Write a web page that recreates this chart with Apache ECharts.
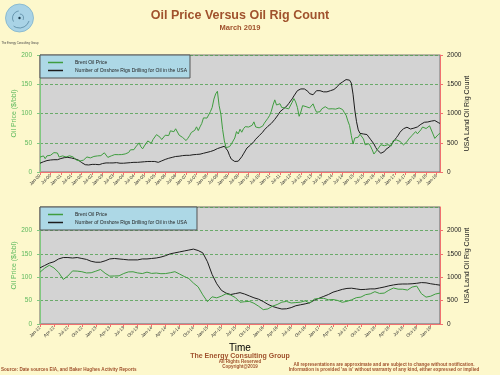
<!DOCTYPE html>
<html>
<head>
<meta charset="utf-8">
<script src="https://cdn.jsdelivr.net/npm/echarts@6/dist/echarts.min.js"></script>
<style>
  html, body { margin: 0; padding: 0; background: #fdf8cc; }
  #chart { width: 500px; height: 375px; }
</style>
</head>
<body>
<div id="chart"></div>
<script>
// monthly, Jan-2000 .. Mar-2019
var brentPrice = [
  25.5, 27.8, 27.5, 22.8, 27.6, 29.8, 28.5, 30.0, 33.1, 30.9, 32.5, 25.6,
  25.6, 27.5, 24.5, 25.7, 28.4, 27.7, 24.5, 25.8, 25.6, 20.5, 18.8, 18.7,
  19.4, 20.3, 23.7, 25.7, 25.4, 24.1, 25.7, 26.6, 28.4, 27.5, 24.3, 28.0,
  31.2, 32.8, 30.3, 25.0, 25.8, 27.6, 28.4, 29.8, 27.1, 29.6, 28.8, 29.8,
  31.2, 30.9, 33.8, 33.4, 37.9, 35.2, 38.2, 42.7, 43.2, 49.8, 43.1, 39.6,
  44.5, 45.5, 53.1, 51.9, 49.0, 55.6, 57.9, 63.9, 63.8, 59.5, 55.5, 56.7,
  62.9, 60.0, 62.3, 70.4, 70.8, 68.9, 73.9, 73.6, 63.0, 59.9, 59.1, 62.4,
  53.7, 57.6, 62.1, 67.5, 67.9, 71.3, 77.2, 70.8, 77.1, 82.9, 92.5, 91.5,
  92.2, 94.9, 103.3, 110.4, 124.6, 133.5, 138.0, 113.4, 99.0, 72.8, 53.2, 41.6,
  44.9, 43.4, 47.7, 50.5, 58.1, 69.1, 65.0, 73.1, 68.0, 73.9, 77.5, 75.2,
  76.9, 74.7, 79.9, 85.7, 77.0, 75.7, 75.5, 77.1, 78.4, 83.5, 86.2, 91.8,
  96.5, 103.7, 114.6, 123.3, 114.5, 113.9, 116.7, 110.2, 112.8, 109.6, 110.8, 107.9,
  110.7, 119.3, 125.5, 119.8, 110.3, 95.2, 102.6, 113.4, 113.0, 111.7, 109.1, 109.5,
  112.9, 116.5, 108.5, 102.3, 102.6, 102.9, 107.9, 111.3, 111.6, 109.1, 107.8, 110.8,
  108.1, 108.9, 107.5, 107.8, 109.5, 111.8, 106.8, 101.6, 97.1, 87.4, 79.4, 62.3,
  47.8, 58.1, 55.9, 59.5, 64.6, 61.7, 56.5, 46.5, 47.6, 48.4, 44.3, 38.0,
  30.7, 32.2, 38.2, 41.6, 46.7, 48.3, 44.9, 45.8, 46.6, 49.5, 44.7, 53.3,
  54.6, 54.9, 51.6, 52.3, 50.3, 46.4, 48.5, 51.7, 56.2, 57.5, 62.7, 64.4,
  69.1, 65.3, 66.0, 72.1, 76.9, 74.4, 74.3, 72.5, 78.9, 81.0, 64.8, 57.4,
  59.4, 64.0, 66.1
];
var rigCount = [
  150, 160, 175, 185, 195, 200, 205, 210, 210, 205, 210, 215,
  230, 240, 245, 250, 250, 245, 240, 235, 225, 215, 205, 185,
  160, 140, 125, 120, 120, 125, 130, 130, 130, 125, 125, 135,
  145, 150, 155, 160, 155, 155, 155, 160, 160, 155, 150, 150,
  150, 150, 155, 160, 160, 160, 165, 165, 165, 165, 170, 170,
  175, 175, 180, 180, 180, 185, 180, 170, 165, 175, 190, 205,
  215, 225, 235, 245, 250, 260, 265, 270, 270, 275, 280, 285,
  285, 285, 285, 290, 295, 300, 300, 300, 305, 310, 320, 330,
  335, 340, 350, 360, 370, 385, 400, 410, 420, 430, 440, 420,
  360, 280, 220, 190, 180, 175, 185, 210, 260, 310, 360, 410,
  440, 460, 490, 520, 560, 590, 620, 650, 680, 720, 750, 780,
  810, 830, 860, 900, 940, 980, 1030, 1060, 1080, 1100, 1130, 1170,
  1200, 1250, 1300, 1330, 1390, 1420, 1420, 1410, 1420, 1400, 1380, 1340,
  1320, 1320, 1350, 1390, 1400, 1390, 1380, 1370, 1370, 1370, 1390, 1390,
  1400, 1410, 1430, 1460, 1500, 1520, 1540, 1560, 1580, 1600, 1570, 1520,
  1330, 1060, 860, 720, 660, 630, 650, 670, 640, 600, 560, 530,
  480, 420, 375, 345, 320, 325, 350, 390, 410, 430, 455, 510,
  550, 590, 630, 680, 710, 740, 760, 765, 750, 735, 740, 750,
  750, 770, 790, 815, 835, 850, 855, 855, 860, 870, 885, 880,
  860, 845, 830
];
var monthNames = ['Jan', 'Feb', 'Mar', 'Apr', 'May', 'Jun', 'Jul', 'Aug', 'Sep', 'Oct', 'Nov', 'Dec'];
var seriesNames = ['Brent Oil Price', 'Number of Onshore Rigs Drilling for Oil in the USA'];
var zoomStart = 144; // Jan-12, start of the lower chart

var months = [];
for (var i = 0; i < brentPrice.length; i++) {
  var yy = i / 12 | 0;
  months.push(monthNames[i % 12] + '-' + (yy < 10 ? '0' : '') + yy);
}

var brown = '#a0522d';
var green = '#3f9d3f';
var red = '#f07070';
var font = 'Liberation Sans, Arial, sans-serif';

function xAxisCfg(grid, cats, step) {
  return {
    gridIndex: grid,
    type: 'category',
    data: cats,
    boundaryGap: false,
    axisLine: { lineStyle: { color: red, width: 1 } },
    axisTick: { interval: step - 1, length: 3, lineStyle: { color: red } },
    axisLabel: { interval: step - 1, rotate: 45, fontSize: 4.5, color: '#333', margin: 3 },
    splitLine: { show: false }
  };
}

function leftAxis(grid, max) {
  return {
    gridIndex: grid, type: 'value', position: 'left', min: 0, max: max, interval: 50,
    name: 'Oil Price ($/bbl)', nameLocation: 'middle', nameGap: 22, nameRotate: 90,
    nameMoveOverlap: false,
    nameTextStyle: { color: '#5cb85c', fontSize: 7 },
    axisLine: { show: true, lineStyle: { color: '#80c880' } },
    axisTick: { show: true, length: 3, lineStyle: { color: '#80c880' } },
    axisLabel: { fontSize: 6.5, color: '#5cb85c', margin: 8, showMaxLabel: max === 200 },
    splitLine: { show: true, lineStyle: { color: '#4f9f4f', type: [3, 2], width: 0.8 } }
  };
}

function rightAxis(grid, max) {
  return {
    gridIndex: grid, type: 'value', position: 'right', min: 0, max: max, interval: 500,
    name: 'USA Land Oil Rig Count', nameLocation: 'middle', nameGap: 24, nameRotate: 90,
    nameMoveOverlap: false,
    nameTextStyle: { color: '#222', fontSize: 7 },
    axisLine: { show: true, lineStyle: { color: red } },
    axisTick: { show: true, length: 3, lineStyle: { color: red } },
    axisLabel: { fontSize: 6.5, color: '#222', margin: 7, showMaxLabel: max === 2000,
      formatter: function (v) { return String(v); } },
    splitLine: { show: false }
  };
}

function legendCfg(top, padRight) {
  return {
    data: seriesNames,
    orient: 'vertical',
    left: 40, top: top,
    backgroundColor: '#add8e6',
    borderColor: '#555', borderWidth: 1, borderRadius: 0,
    padding: [5, padRight, 5, 8],
    itemGap: 3, itemWidth: 15, itemHeight: 1.5, icon: 'rect',
    textStyle: { fontSize: 5, color: '#222', padding: [0, 0, 0, 7] }
  };
}

function txt(x, y, s, size, color, bold, align) {
  return {
    type: 'text', x: x, y: y, silent: true,
    style: {
      text: s, fill: color,
      font: (bold ? 'bold ' : '') + size + 'px ' + font,
      textAlign: align || 'center', textVerticalAlign: 'middle',
      align: align || 'center', verticalAlign: 'middle'
    }
  };
}

var myChart = echarts.init(document.getElementById('chart'));
var option = {
  backgroundColor: '#fdf8cc',
  animation: false,
  textStyle: { fontFamily: font },
  grid: [
    { left: 40, right: 60, top: 55, height: 117, outerBoundsMode: 'none', containLabel: false,
      show: true, backgroundColor: '#d3d3d3', borderColor: '#777', borderWidth: 1 },
    { left: 40, right: 60, top: 207, height: 117, outerBoundsMode: 'none', containLabel: false,
      show: true, backgroundColor: '#d3d3d3', borderColor: '#666', borderWidth: 1 }
  ],
  legend: [legendCfg(55, 3), legendCfg(207, 10)],
  xAxis: [
    xAxisCfg(0, months, 6),
    Object.assign(xAxisCfg(1, months.slice(zoomStart), 3), {
      name: 'Time', nameLocation: 'middle', nameGap: 19, nameMoveOverlap: false,
      nameTextStyle: { fontSize: 10, color: '#000' }
    })
  ],
  yAxis: [leftAxis(0, 200), rightAxis(0, 2000), leftAxis(1, 250), rightAxis(1, 2500)],
  series: [
    { name: seriesNames[1], type: 'line', xAxisIndex: 0, yAxisIndex: 1, data: rigCount, symbol: 'none',
      lineStyle: { color: '#1c1c1c', width: 1 }, itemStyle: { color: '#1c1c1c' } },
    { name: seriesNames[0], type: 'line', xAxisIndex: 0, yAxisIndex: 0, data: brentPrice, symbol: 'none',
      lineStyle: { color: green, width: 1 }, itemStyle: { color: green } },
    { name: seriesNames[1], type: 'line', xAxisIndex: 1, yAxisIndex: 3, data: rigCount.slice(zoomStart), symbol: 'none',
      lineStyle: { color: '#1c1c1c', width: 1 }, itemStyle: { color: '#1c1c1c' } },
    { name: seriesNames[0], type: 'line', xAxisIndex: 1, yAxisIndex: 2, data: brentPrice.slice(zoomStart), symbol: 'none',
      lineStyle: { color: green, width: 1 }, itemStyle: { color: green } }
  ],
  graphic: [
    // logo
    { type: 'circle', silent: true, shape: { cx: 19.5, cy: 18, r: 14 },
      style: { fill: '#a9d3e6', stroke: '#7fb2cc', lineWidth: 0.8 } },
    { type: 'arc', silent: true, shape: { cx: 19.5, cy: 18, r: 10, startAngle: 0.3, endAngle: 2.2 },
      style: { stroke: '#3d6f8a', fill: null, lineWidth: 0.6 } },
    { type: 'arc', silent: true, shape: { cx: 19.5, cy: 18, r: 7, startAngle: 2.6, endAngle: 4.6 },
      style: { stroke: '#3d6f8a', fill: null, lineWidth: 0.6 } },
    { type: 'arc', silent: true, shape: { cx: 19.5, cy: 18, r: 4, startAngle: 4.8, endAngle: 6.8 },
      style: { stroke: '#3d6f8a', fill: null, lineWidth: 0.6 } },
    { type: 'circle', silent: true, shape: { cx: 19.5, cy: 18, r: 1.2 }, style: { fill: '#1f3f52' } },
    txt(20, 43, 'The Energy Consulting Group', 2.8, '#444', false),
    // titles
    txt(240, 16, 'Oil Price Versus Oil Rig Count', 12.5, brown, true),
    txt(240, 28, 'March 2019', 7.5, brown, true),
    // footer
    txt(240, 356, 'The Energy Consulting Group', 7, brown, true),
    txt(240, 361.5, 'All Rights Reserved', 4.5, brown, true),
    txt(240, 366.5, 'Copyright@2019', 4.5, brown, true),
    txt(1, 370, 'Source: Date sources EIA, and Baker Hughes Activity Reports', 4.6, brown, true, 'left'),
    txt(384, 365, 'All representations are approximate and are subject to change without notification.', 4.6, brown, true),
    txt(384, 370, "Information is provided 'as is' without warranty of any kind, either expressed or implied", 4.6, brown, true)
  ]
};
myChart.setOption(option);
</script>
</body>
</html>
